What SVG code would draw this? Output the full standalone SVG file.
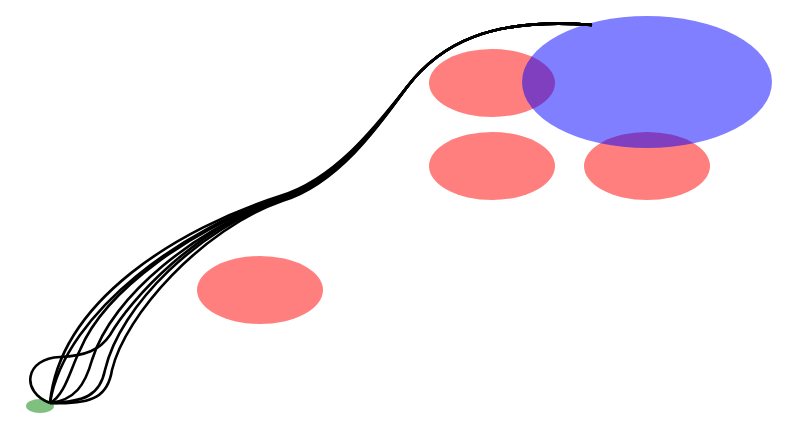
<svg xmlns="http://www.w3.org/2000/svg" width="800" height="431" viewBox="0 0 800 431">
<style>
.r{fill:#ff0000;fill-opacity:0.5}
.b{fill:#0000ff;fill-opacity:0.5}
.g{fill:#008000;fill-opacity:0.5}
.e{fill:none;stroke:#000;stroke-width:2.6}
</style>
<rect width="800" height="431" fill="#fff"/>
<g id="n1"><ellipse class="r" cx="492" cy="83" rx="63" ry="34"/></g>
<g id="n2"><ellipse class="r" cx="492" cy="166" rx="63" ry="34"/></g>
<g id="n3"><ellipse class="r" cx="647" cy="166" rx="63" ry="34"/></g>
<g id="n4"><ellipse class="r" cx="260" cy="290" rx="63" ry="34"/></g>
<g id="n5"><ellipse class="b" cx="647" cy="82" rx="125" ry="66"/></g>
<g id="n6"><ellipse class="g" cx="40" cy="406" rx="14" ry="7"/></g>
<g id="edges">
<path class="e" d="M50,403 C20,392 25,358 60,357 C85,356 100,350 110,335 C130,300 195,228 281,199 C336,182.5 377,126.5 407,87 C440,44 490,17 592,25"/>
<path class="e" d="M50,403 C60,300 180,228 280,196 C335,179.5 377,125 407,87 C440,44 490,17 592,25"/>
<path class="e" d="M50,403 C65,310 190,225 280,198 C335,181.5 377,126 407,87 C440,44 490,17 592,25"/>
<path class="e" d="M50,403 C65,395 70,370 80,350 C105,290 195,226 281,199 C336,182.5 377,126.5 407,87 C440,44 490,17 592,25"/>
<path class="e" d="M50,403 C75,400 85,385 92,360 C112,295 198,227 281,200 C336,183.5 377,127 407,87 C440,44 490,17 592,25"/>
<path class="e" d="M50,403 C85,402 100,395 105,370 C120,305 200,228 282,200 C337,183.5 378,127 407,87 C440,44 490,17 592,25"/>
<path class="e" d="M50,403 C95,405 108,395 112,370 C125,315 202,229 282,201 C337,184.5 378,127.5 407,87 C440,44 490,17 592,25"/>
</g>
</svg>
